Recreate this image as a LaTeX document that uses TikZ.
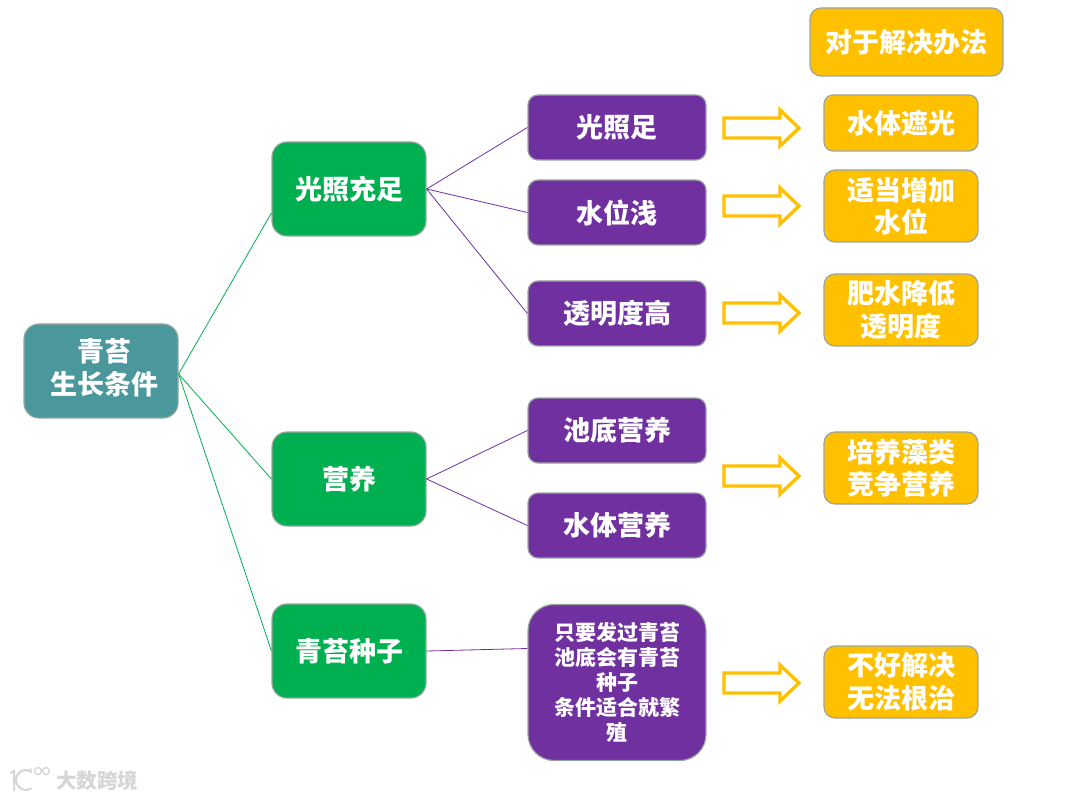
\documentclass[tikz,border=0pt]{standalone}
\usepackage{fontspec}
\newfontfamily\cjk{Noto Sans CJK SC}
\definecolor{rootc}{HTML}{4A979C}
\definecolor{greenc}{HTML}{00B050}
\definecolor{purplec}{HTML}{7030A0}
\definecolor{amberc}{HTML}{FFC000}
\definecolor{edgec}{HTML}{9AA5A0}
\tikzset{
  boxbase/.style={draw=edgec,line width=1.2pt,text=white,align=center,inner sep=0pt,
    font=\cjk\bfseries\fontsize{27}{32.5}\selectfont},
  rootbox/.style={boxbase,fill=rootc,rounded corners=15pt,minimum width=154pt,minimum height=94pt},
  greenbox/.style={boxbase,fill=greenc,rounded corners=15pt,minimum width=154pt,minimum height=94pt},
  purplebox/.style={boxbase,fill=purplec,rounded corners=10pt,minimum width=178pt,minimum height=65pt},
  seedbox/.style={boxbase,fill=purplec,rounded corners=26pt,minimum width=178pt,minimum height=156pt,
    font=\cjk\bfseries\fontsize{21}{25}\selectfont},
  amberbox/.style={boxbase,fill=amberc,rounded corners=11pt,minimum width=154pt},
  greenline/.style={draw=greenc,line width=0.8pt},
  purpleline/.style={draw=purplec,line width=0.8pt},
  blockarrow/.pic={\draw[amberc,line width=3.4pt,miter limit=8,fill=white]
    (-76,-10)--(-20,-10)--(-20,-18)--(-1,0)--(-20,18)--(-20,10)--(-76,10)--cycle;},
}
\begin{document}
\begin{tikzpicture}[x=1pt,y=-1pt]
\useasboundingbox (0,0) rectangle (1073,799);
\fill[white] (0,0) rectangle (1073,799);
\node[rootbox] (root) at (101,371) {\hspace*{6pt}\raisebox{3pt}{\begin{tabular}{@{}c@{}}青苔\\生长条件\end{tabular}}};
\node[greenbox] (g1) at (349,189) {光照充足};
\node[greenbox] (g2) at (349,479) {营养};
\node[greenbox] (g3) at (349,651) {青苔种子};
\node[purplebox] (p1) at (617,127.5) {光照足};
\node[purplebox] (p2) at (617,212.5) {水位浅};
\node[purplebox] (p3) at (617,313.5) {透明度高};
\node[purplebox] (p4) at (617,430.5) {池底营养};
\node[purplebox] (p5) at (617,525.5) {水体营养};
\node[seedbox] (p6) at (617,682.5) {只要发过青苔\\池底会有青苔\\种子\\条件适合就繁\\殖};
\node[amberbox,minimum width=193pt,minimum height=68pt] (head) at (906.5,42) {对于解决办法};
\node[amberbox,minimum height=56pt,rounded corners=9pt] (a1) at (901,123) {水体遮光};
\node[amberbox,minimum height=72pt] (a2) at (901,206) {适当增加\\水位};
\node[amberbox,minimum height=72pt] (a3) at (901,310) {肥水降低\\透明度};
\node[amberbox,minimum height=72pt] (a4) at (901,468) {培养藻类\\竞争营养};
\node[amberbox,minimum height=72pt] (a5) at (901,682) {不好解决\\无法根治};
\coordinate (rootout) at ([yshift=-3pt]root.east);
\coordinate (g1in) at ([yshift=-24pt]g1.west);
\coordinate (p6in) at ([yshift=34pt]p6.west);
\draw[greenline] (rootout)--(g1in);
\draw[greenline] (rootout)--(g2.west);
\draw[greenline] (rootout)--(g3.west);
\draw[purpleline] (g1.east)--(p1.west);
\draw[purpleline] (g1.east)--(p2.west);
\draw[purpleline] (g1.east)--(p3.west);
\draw[purpleline] (g2.east)--(p4.west);
\draw[purpleline] (g2.east)--(p5.west);
\draw[purpleline] (g3.east)--(p6in);
\pic at (800,128) {blockarrow};
\pic at (800,206) {blockarrow};
\pic at (800,313) {blockarrow};
\pic at (800,476) {blockarrow};
\pic at (800,683) {blockarrow};
% watermark
\node[text=black!16,inner sep=0pt,font=\cjk\bfseries\fontsize{20.5}{21}\selectfont] (mark) at (97,780.5) {大数跨境};
\draw[black!16,line width=2pt,line cap=round]
  (11,773)--(14,771)--(14,790) (31,771.3) arc[start angle=300,end angle=60,radius=10];
\draw[black!16,line width=1.3pt] (31,773) -- (31,768) (38,771) circle[radius=3.5] (46,771) circle[radius=3.5];
\end{tikzpicture}
\end{document}
